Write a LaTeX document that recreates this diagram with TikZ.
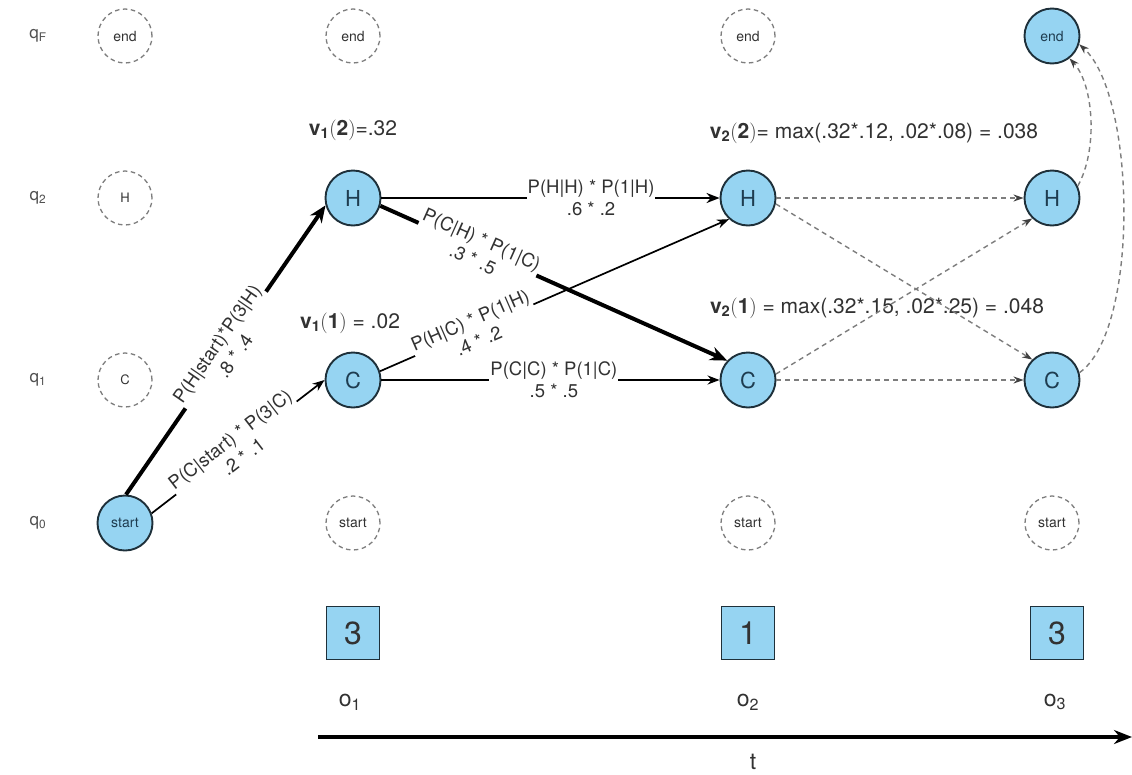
\documentclass[tikz,border=0pt]{standalone}
\usepackage{fontspec}
\setmainfont{TeX Gyre Heros}
\usetikzlibrary{arrows.meta}
\definecolor{nodeblue}{RGB}{150,212,242}
\definecolor{nodeedge}{RGB}{30,48,58}
\definecolor{nodetxt}{RGB}{30,60,80}
\definecolor{txt}{RGB}{50,50,50}
\definecolor{dgray}{RGB}{125,125,125}
\newcommand{\vlab}[2]{$\mathbf{v}_{\mathbf{#1}}\mathbf{(#2)}$}
\tikzset{
  st/.style={circle, draw=nodeedge, line width=1.9pt, fill=nodeblue, minimum size=55pt, inner sep=0pt, text=nodetxt, font=\fontsize{22}{22}\selectfont},
  stsmall/.style={st, font=\fontsize{14}{14}\selectfont},
  ghost/.style={circle, draw=dgray, dash pattern=on 4.5pt off 3.5pt, line width=1.3pt, minimum size=54pt, inner sep=0pt, text=txt, font=\fontsize{13}{13}\selectfont},
  ghostsmall/.style={ghost, font=\fontsize{14}{14}\selectfont},
  lab/.style={fill=white, inner sep=1pt, align=center, text=txt, font=\fontsize{18.5}{22}\selectfont, sloped},
  rowlab/.style={text=txt!85, font=\fontsize{17}{17}\selectfont},
  vtxt/.style={text=txt, font=\fontsize{21}{21}\selectfont},
  obs/.style={draw=nodeedge, line width=1.4pt, fill=nodeblue, minimum width=53pt, minimum height=53pt, inner sep=0pt, text=txt, font=\fontsize{32}{32}\selectfont},
  olab/.style={text=txt, font=\fontsize{23}{23}\selectfont},
  thickedge/.style={line width=4pt, -{Stealth[length=17pt,width=14pt]}},
  normedge/.style={line width=2.2pt, -{Stealth[length=13pt,width=10pt]}},
  thinedge/.style={line width=1.7pt, -{Stealth[length=12pt,width=9pt]}},
  dedge/.style={draw=dgray, line width=1.4pt, dash pattern=on 5pt off 4pt, -{Stealth[length=10pt,width=7pt,color=black!75]}}
}
\begin{document}
\begin{tikzpicture}[x=1pt,y=1pt]
\useasboundingbox[fill=white] (0,0) rectangle (1132,-774);
% row labels
\node[rowlab] (qF) at (38,-36) {q\textsubscript{F}};
\node[rowlab] (q2) at (38,-198) {q\textsubscript{2}};
\node[rowlab] (q1) at (38,-380) {q\textsubscript{1}};
\node[rowlab] (q0) at (38,-523) {q\textsubscript{0}};
% column 0
\node[ghostsmall] (e0) at (125,-36) {end};
\node[ghost] (h0) at (125,-198) {H};
\node[ghost] (c0) at (125,-380) {C};
\node[stsmall] (start) at (125,-523) {start};
% column 1
\node[ghostsmall] (e1) at (353,-36) {end};
\node[st] (H1) at (353,-198) {H};
\node[st] (C1) at (353,-380) {C};
\node[ghostsmall] (s1) at (353,-523) {start};
% column 2
\node[ghostsmall] (e2) at (748,-36) {end};
\node[st] (H2) at (748,-198) {H};
\node[st] (C2) at (748,-380) {C};
\node[ghostsmall] (s2) at (748,-523) {start};
% column 3
\node[stsmall] (end3) at (1052,-36) {end};
\node[st] (H3) at (1052,-198) {H};
\node[st] (C3) at (1052,-380) {C};
\node[ghostsmall] (s3) at (1052,-523) {start};
% value labels
\node[vtxt] (v12) at (353,-130) {\vlab{1}{2}=.32};
\node[vtxt] (v11) at (350,-323) {\vlab{1}{1} = .02};
\node[vtxt] (v22) at (874,-133) {\vlab{2}{2}= max(.32*.12, .02*.08) = .038};
\node[vtxt] (v21) at (877,-308) {\vlab{2}{1} = max(.32*.15, .02*.25) = .048};
% solid edges
\draw[normedge] (H1.east) -- node[lab,pos=0.62]{P(H|H) * P(1|H)\\.6 * .2} (H2.west);
\draw[thinedge] (C1.east) -- node[lab,pos=0.51]{P(C|C) * P(1|C)\\.5 * .5} (C2.west);
\draw[thickedge] (H1.-16) -- node[lab,pos=0.28]{P(C|H) * P(1|C)\\.3 * .5} (C2.137);
\draw[thinedge] (C1.18) -- node[lab,pos=0.27]{P(H|C) * P(1|H)\\.4 * .2} (H2.-132);
\draw[thickedge] (start.88) -- node[lab,pos=0.5]{P(H|start)*P(3|H)\\.8 * .4} (H1.195);
\draw[thinedge] (start.20) -- node[lab,pos=0.49]{P(C|start) * P(3|C)\\.2 * .1} (C1.west);
% dashed edges
\draw[dedge] (H2.east) -- (H3.west);
\draw[dedge] (H2.-12) -- (C3.134);
\draw[dedge] (C2.12) -- (H3.-134);
\draw[dedge] (C2.east) -- (C3.west);
\draw[dedge] (H3.25) .. controls (1098,-150) and (1094,-85) .. (end3.-52);
\draw[dedge] (C3.15) .. controls (1140,-330) and (1136,-95) .. (end3.-17);
% observations
\node[obs] (o1box) at (353,-633) {3};
\node[obs] (o2box) at (748,-633) {1};
\node[obs] (o3box) at (1057,-633) {3};
\node[olab] (o1) at (350,-702) {o\textsubscript{1}};
\node[olab] (o2) at (748,-702) {o\textsubscript{2}};
\node[olab] (o3) at (1055,-702) {o\textsubscript{3}};
% time axis
\coordinate (ta) at (318,-737);
\coordinate (tb) at (1132,-737);
\draw[line width=4pt, -{Stealth[length=18pt,width=14pt]}] (ta) -- (tb);
\node[olab] (t) at (753,-762) {t};
\end{tikzpicture}
\end{document}
